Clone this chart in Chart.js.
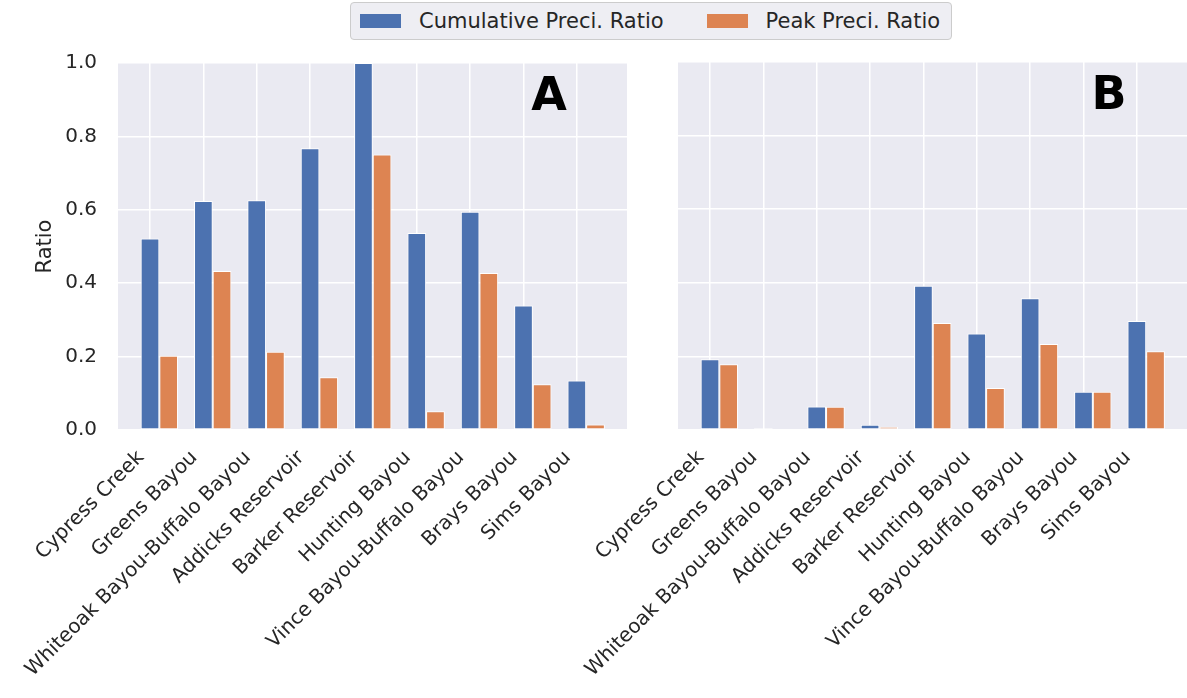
<!DOCTYPE html>
<html lang="en">
<head>
<meta charset="UTF-8">
<title>Preci. Ratio</title>
<script src="https://cdn.jsdelivr.net/npm/chart.js"></script>
<style>
  body { margin:0; background:#fff; width:1187px; height:698px; position:relative; overflow:hidden; font-family:"DejaVu Sans", sans-serif; }
  .painel { position:absolute; }
  #legenda { position:absolute; left:350px; top:2px; width:602px; height:38px; box-sizing:border-box;
             border:1.5px solid #cccccc; border-radius:4px; background:#eeeef3;
             display:flex; align-items:center; padding-left:9px; font-size:21px; color:#262626; white-space:nowrap; }
  .item { display:flex; align-items:center; margin-right:43px; }
  .cor { width:41px; height:14px; margin-right:18px; }
</style>
</head>
<body>
<div id="legenda"></div>
<div class="painel" style="left:0px; top:30px; width:632px; height:668px;"><canvas id="graficoA"></canvas></div>
<div class="painel" style="left:540px; top:42px; width:647px; height:656px;"><canvas id="graficoB"></canvas></div>

<script>
var bacias = ['Cypress Creek', 'Greens Bayou', 'Whiteoak Bayou-Buffalo Bayou', 'Addicks Reservoir',
              'Barker Reservoir', 'Hunting Bayou', 'Vince Bayou-Buffalo Bayou', 'Brays Bayou', 'Sims Bayou'];
var nomesSeries = ['Cumulative Preci. Ratio', 'Peak Preci. Ratio'];
var coresSeries = ['#4c72b0', '#dd8452'];

var cumulativaA = [0.522, 0.624, 0.626, 0.768, 1.0, 0.537, 0.595, 0.339, 0.135];
var picoA       = [0.202, 0.433, 0.213, 0.144, 0.751, 0.051, 0.428, 0.125, 0.015];
var cumulativaB = [0.192, 0.005, 0.064, 0.014, 0.392, 0.262, 0.358, 0.104, 0.296];
var picoB       = [0.179, 0.002, 0.063, 0.009, 0.291, 0.114, 0.234, 0.104, 0.214];

var ticksY = [0, 0.2, 0.4, 0.6, 0.8, 1.0];

var fonte = 'DejaVu Sans';
var corTexto = '#262626';

// legenda em html
var leg = document.getElementById('legenda');
for (var i = 0; i < nomesSeries.length; i++) {
    leg.innerHTML += '<div class="item"><div class="cor" style="background:' + coresSeries[i] + '"></div>' + nomesSeries[i] + '</div>';
}

var fundoPlugin = {
    id: 'fundo',
    beforeDraw: function (chart) {
        var a = chart.chartArea;
        chart.ctx.save();
        chart.ctx.fillStyle = '#eaeaf2';
        chart.ctx.fillRect(a.left, a.top, a.right - a.left, a.bottom - a.top);
        chart.ctx.restore();
    }
};

var letraPlugin = {
    id: 'letra',
    afterDraw: function (chart, args, opts) {
        var a = chart.chartArea;
        var ctx = chart.ctx;
        ctx.save();
        ctx.font = 'bold 46px ' + fonte;
        ctx.fillStyle = '#000';
        ctx.textAlign = 'center';
        ctx.textBaseline = 'middle';
        ctx.fillText(opts.texto, a.right - 78, a.top + 35);
        ctx.restore();
    }
};

function criarGrafico(id, cumulativa, pico, letra, larguraY, mostrarY, topo, direita) {
    // barras deslocadas para que a barra azul fique sobre o tick
    var dados1 = cumulativa.map(function (v, i) { return { x: i + 0.175, y: v }; });
    var dados2 = pico.map(function (v, i) { return { x: i + 0.175, y: v }; });

    new Chart(document.getElementById(id), {
        type: 'bar',
        data: {
            datasets: [{
                label: nomesSeries[0],
                data: dados1,
                backgroundColor: coresSeries[0],
                borderColor: '#ffffff',
                borderWidth: 1,
                borderSkipped: false
            }, {
                label: nomesSeries[1],
                data: dados2,
                backgroundColor: coresSeries[1],
                borderColor: '#ffffff',
                borderWidth: 1,
                borderSkipped: false
            }]
        },
        options: {
            responsive: true,
            maintainAspectRatio: false,
            animation: false,
            datasets: { bar: { categoryPercentage: 0.7, barPercentage: 1.0 } },
            layout: { autoPadding: false, padding: { top: topo, right: direita, left: 0, bottom: 0 } },
            plugins: {
                legend: { display: false },
                tooltip: { enabled: false },
                letra: { texto: letra }
            },
            scales: {
                x: {
                    type: 'linear',
                    offset: false,
                    min: -0.6,
                    max: 8.94,
                    afterBuildTicks: function (s) {
                        s.ticks = bacias.map(function (b, i) { return { value: i }; });
                    },
                    afterFit: function (s) { s.height = 268; },
                    border: { display: false },
                    grid: { color: '#ffffff', lineWidth: 1.5, drawTicks: false, offset: false },
                    ticks: {
                        autoSkip: false,
                        minRotation: 45,
                        maxRotation: 45,
                        padding: 16,
                        labelOffset: -9,
                        color: corTexto,
                        font: { family: fonte, size: 20 },
                        callback: function (v) { return bacias[v]; }
                    }
                },
                y: {
                    min: 0,
                    max: 1,
                    afterBuildTicks: function (s) {
                        s.ticks = ticksY.map(function (t) { return { value: t }; });
                    },
                    afterFit: function (s) { s.width = larguraY; },
                    border: { display: false },
                    grid: { color: '#ffffff', lineWidth: 1.5, drawTicks: false },
                    title: {
                        display: mostrarY,
                        text: 'Ratio',
                        color: corTexto,
                        font: { family: fonte, size: 21 },
                        padding: { top: 33, bottom: 0 }
                    },
                    ticks: {
                        display: mostrarY,
                        padding: 21,
                        color: corTexto,
                        font: { family: fonte, size: 20 },
                        callback: function (v) { return v.toFixed(1); }
                    }
                }
            }
        },
        plugins: [fundoPlugin, letraPlugin]
    });
}

criarGrafico('graficoA', cumulativaA, picoA, 'A', 118, true, 0, 5);
criarGrafico('graficoB', cumulativaB, picoB, 'B', 138, false, 20, 0);
</script>
</body>
</html>
